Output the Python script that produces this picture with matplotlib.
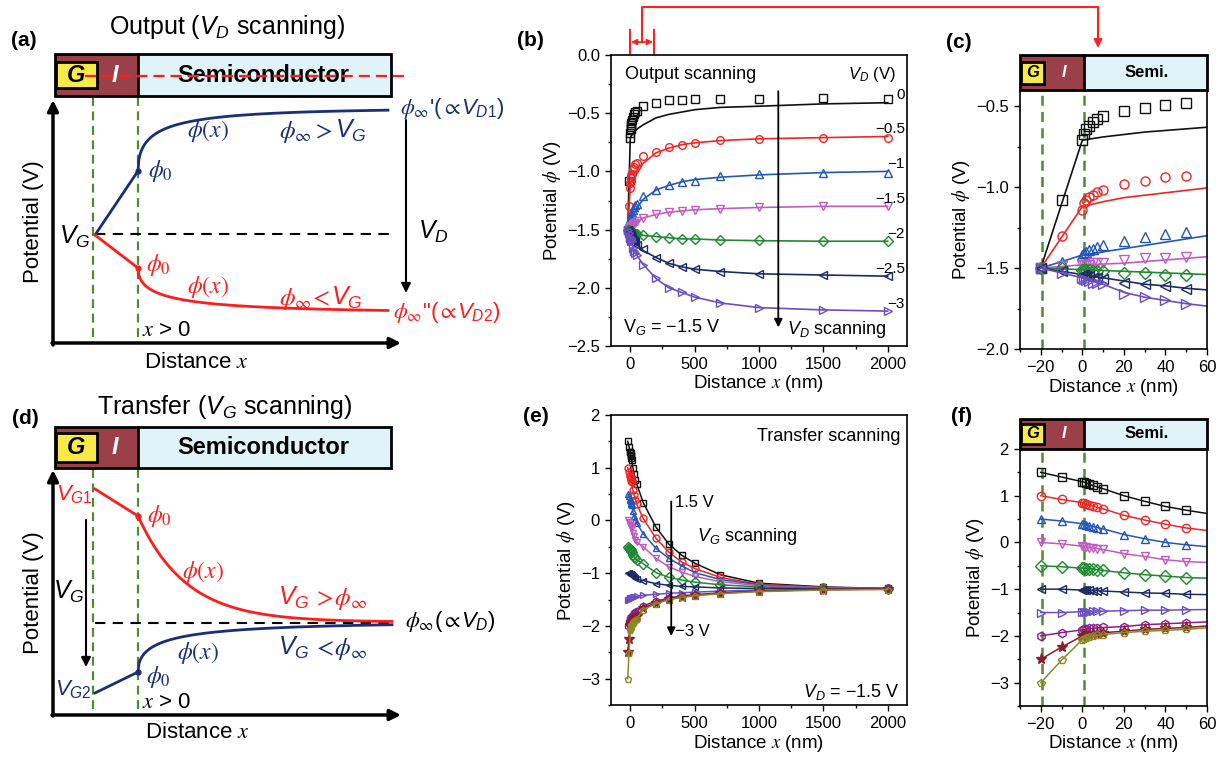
import numpy as np
import matplotlib
matplotlib.use("Agg")
import matplotlib.pyplot as plt
from matplotlib.patches import Rectangle
from matplotlib.ticker import MultipleLocator
from matplotlib.transforms import IdentityTransform

W, H = 1223, 758
plt.rcParams.update({
    'font.family': ['Liberation Sans', 'DejaVu Sans'],
    'mathtext.fontset': 'custom',
    'mathtext.rm': 'Liberation Sans',
    'mathtext.it': 'Liberation Sans:italic',
    'mathtext.bf': 'Liberation Sans:bold',
    'mathtext.sf': 'Liberation Sans',
    'axes.linewidth': 1.2,
})

# ---------------- data: output scanning (b, c) ----------------
vd_labels = ['0', '−0.5', '−1', '−1.5', '−2', '−2.5', '−3']
x_sim = [-20, -10, 0, 1, 2, 3, 5, 7, 10, 20, 30, 40, 50, 100, 200, 300, 400, 500, 700, 1000, 1500, 2000]
out_sim_0 = [-1.5, -1.08, -0.71, -0.67, -0.64, -0.62, -0.60, -0.58, -0.56, -0.53, -0.51, -0.49, -0.48, -0.44, -0.41, -0.39, -0.39, -0.38, -0.38, -0.375, -0.37, -0.375]
out_sim_05 = [-1.5, -1.3, -1.14, -1.10, -1.08, -1.06, -1.05, -1.03, -1.02, -0.98, -0.96, -0.94, -0.93, -0.87, -0.83, -0.79, -0.77, -0.76, -0.73, -0.72, -0.71, -0.71]
out_sim_1 = [-1.5, -1.46, -1.42, -1.41, -1.40, -1.39, -1.38, -1.37, -1.36, -1.33, -1.31, -1.29, -1.28, -1.21, -1.16, -1.12, -1.09, -1.08, -1.04, -1.02, -1.01, -1.01]
out_sim_15 = [-1.5, -1.49, -1.48, -1.48, -1.48, -1.48, -1.47, -1.47, -1.47, -1.45, -1.44, -1.44, -1.43, -1.40, -1.37, -1.35, -1.34, -1.33, -1.32, -1.31, -1.30, -1.30]
out_sim_2 = [-1.5, -1.5, -1.51, -1.51, -1.51, -1.51, -1.52, -1.52, -1.52, -1.53, -1.53, -1.54, -1.54, -1.55, -1.56, -1.57, -1.58, -1.58, -1.59, -1.59, -1.60, -1.60]
out_sim_25 = [-1.5, -1.52, -1.54, -1.545, -1.55, -1.55, -1.56, -1.56, -1.57, -1.59, -1.60, -1.61, -1.63, -1.67, -1.74, -1.79, -1.82, -1.84, -1.86, -1.88, -1.89, -1.90]
out_sim_3 = [-1.5, -1.53, -1.56, -1.57, -1.575, -1.58, -1.59, -1.595, -1.60, -1.66, -1.68, -1.70, -1.72, -1.80, -1.92, -2.00, -2.04, -2.08, -2.13, -2.17, -2.19, -2.20]

x_fit = [-20, 0, 10, 20, 30, 40, 50, 60, 100, 200, 300, 400, 500, 700, 1000, 1500, 2000]
out_fit_0 = [-1.5, -0.71, -0.69, -0.675, -0.66, -0.65, -0.64, -0.63, -0.60, -0.54, -0.51, -0.49, -0.47, -0.45, -0.44, -0.42, -0.41]
out_fit_05 = [-1.5, -1.12, -1.09, -1.065, -1.05, -1.035, -1.02, -1.005, -0.93, -0.84, -0.80, -0.77, -0.755, -0.735, -0.72, -0.71, -0.70]
out_fit_1 = [-1.5, -1.42, -1.40, -1.38, -1.36, -1.34, -1.32, -1.30, -1.24, -1.16, -1.12, -1.09, -1.07, -1.05, -1.03, -1.01, -1.00]
out_fit_15 = [-1.5, -1.48, -1.475, -1.47, -1.46, -1.45, -1.44, -1.43, -1.40, -1.37, -1.35, -1.34, -1.33, -1.32, -1.31, -1.30, -1.30]
out_fit_2 = [-1.5, -1.51, -1.515, -1.52, -1.525, -1.53, -1.535, -1.54, -1.55, -1.56, -1.57, -1.58, -1.58, -1.59, -1.595, -1.60, -1.60]
out_fit_25 = [-1.5, -1.54, -1.56, -1.58, -1.60, -1.61, -1.625, -1.635, -1.68, -1.74, -1.79, -1.82, -1.84, -1.86, -1.88, -1.89, -1.90]
out_fit_3 = [-1.5, -1.56, -1.60, -1.65, -1.68, -1.70, -1.72, -1.735, -1.80, -1.92, -2.00, -2.04, -2.08, -2.13, -2.17, -2.19, -2.20]

# ---------------- data: transfer scanning (e, f) ----------------
x_tr = [-20, -10, 0, 1, 2, 3, 5, 7, 10, 20, 30, 40, 50, 100, 200, 300, 400, 500, 700, 1000, 1500, 2000]
tr_p15 = [1.5, 1.4, 1.3, 1.29, 1.27, 1.25, 1.22, 1.19, 1.15, 1.0, 0.88, 0.77, 0.69, 0.34, -0.13, -0.45, -0.66, -0.81, -1.03, -1.19, -1.26, -1.29]
tr_p10 = [1.0, 0.92, 0.85, 0.84, 0.82, 0.80, 0.78, 0.75, 0.72, 0.58, 0.48, 0.39, 0.31, 0.04, -0.34, -0.60, -0.79, -0.91, -1.08, -1.21, -1.27, -1.29]
tr_p05 = [0.5, 0.46, 0.40, 0.39, 0.38, 0.36, 0.34, 0.32, 0.29, 0.17, 0.08, 0.0, -0.05, -0.25, -0.53, -0.72, -0.86, -0.99, -1.12, -1.22, -1.28, -1.29]
tr_0 = [0.0, -0.03, -0.08, -0.09, -0.10, -0.11, -0.12, -0.13, -0.15, -0.24, -0.30, -0.37, -0.41, -0.50, -0.72, -0.88, -0.98, -1.06, -1.16, -1.24, -1.28, -1.30]
tr_m05 = [-0.5, -0.52, -0.55, -0.55, -0.56, -0.56, -0.57, -0.58, -0.60, -0.65, -0.69, -0.72, -0.75, -0.82, -0.99, -1.08, -1.13, -1.17, -1.22, -1.26, -1.29, -1.30]
tr_m10 = [-1.0, -1.0, -1.02, -1.02, -1.02, -1.02, -1.03, -1.03, -1.04, -1.06, -1.08, -1.09, -1.11, -1.14, -1.20, -1.23, -1.25, -1.26, -1.28, -1.29, -1.30, -1.30]
tr_m15 = [-1.5, -1.5, -1.48, -1.48, -1.48, -1.48, -1.47, -1.47, -1.47, -1.46, -1.45, -1.45, -1.44, -1.42, -1.40, -1.38, -1.37, -1.36, -1.34, -1.32, -1.31, -1.30]
tr_m20 = [-2.0, -1.93, -1.87, -1.86, -1.85, -1.84, -1.84, -1.83, -1.82, -1.80, -1.76, -1.74, -1.72, -1.62, -1.53, -1.47, -1.43, -1.41, -1.37, -1.34, -1.31, -1.30]
tr_m25 = [-2.5, -2.24, -2.0, -1.99, -1.98, -1.97, -1.96, -1.95, -1.93, -1.90, -1.86, -1.84, -1.82, -1.66, -1.56, -1.49, -1.45, -1.42, -1.38, -1.34, -1.31, -1.30]
tr_m30 = [-3.0, -2.52, -2.08, -2.06, -2.04, -2.02, -2.0, -1.99, -1.97, -1.93, -1.90, -1.88, -1.86, -1.69, -1.58, -1.50, -1.46, -1.43, -1.39, -1.35, -1.32, -1.31]

out_sim = [out_sim_0, out_sim_05, out_sim_1, out_sim_15, out_sim_2, out_sim_25, out_sim_3]
out_fit = [out_fit_0, out_fit_05, out_fit_1, out_fit_15, out_fit_2, out_fit_25, out_fit_3]
out_colors = ['#111111', '#f02424', '#2457b5', '#c05cc0', '#1e8a2e', '#1c2a66', '#6b4fc0']
out_markers = ['s', 'o', '^', 'v', 'D', '<', '>']

tr_series = [tr_p15, tr_p10, tr_p05, tr_0, tr_m05, tr_m10, tr_m15, tr_m20, tr_m25, tr_m30]
tr_colors = ['#111111', '#f02424', '#2457b5', '#c05cc0', '#1e8a2e', '#1c2a66', '#6b4fc0', '#8a1e8a', '#8b1c2c', '#8b8a2a']
tr_markers = ['s', 'o', '^', 'v', 'D', '<', '>', 'h', '*', 'p']

SCH_BLUE = '#1a2f78'
SCH_RED = '#ff1c1c'
GREEN = '#4e8b33'
BROWN = '#9b4049'
LBLUE = '#dff3f8'
YELLOW = '#f7ea48'

fig = plt.figure(figsize=(W / 100, H / 100), dpi=100)
ov = fig.add_axes([0, 0, 1, 1])
ov.set_xlim(0, W)
ov.set_ylim(H, 0)
ov.axis('off')
renderer = fig.canvas.get_renderer()


def seq_text(x, yc, parts, color, size, gap=0.0):
    """Place text pieces one after another (pixel coords, y = centre)."""
    ybase = yc + 0.33 * size * 100 / 72
    X, Y = ov.transData.transform((x, ybase))
    for s, mf in parts:
        t = fig.text(X, Y, s, transform=IdentityTransform(), color=color,
                     fontsize=size, ha='left', va='baseline', math_fontfamily=mf)
        bb = t.get_window_extent(renderer)
        X = bb.x1 + gap


def draw_bar(ax, xl, xi, xr, yt, yb, gx0, gx1, gy0, gy1, fs, label, gxc, ixc, sxc, yc, lw=2):
    ax.add_patch(Rectangle((xl, yt), xi - xl, yb - yt, facecolor=BROWN, edgecolor='none', zorder=5, clip_on=False))
    ax.add_patch(Rectangle((xi, yt), xr - xi, yb - yt, facecolor=LBLUE, edgecolor='none', zorder=5, clip_on=False))
    ax.add_patch(Rectangle((gx0, gy0), gx1 - gx0, gy1 - gy0, facecolor=YELLOW, edgecolor='black', lw=lw, zorder=6, clip_on=False))
    ax.add_patch(Rectangle((xl, yt), xr - xl, yb - yt, facecolor='none', edgecolor='black', lw=lw, zorder=7, clip_on=False))
    ax.plot([xi, xi], [yt, yb], color='black', lw=lw, zorder=7, clip_on=False)
    ax.text(gxc, yc, 'G', fontsize=fs, fontweight='bold', fontstyle='italic', ha='center', va='center', zorder=8)
    ax.text(ixc, yc, 'I', fontsize=fs, fontweight='bold', fontstyle='italic', color='white', ha='center', va='center', zorder=8)
    ax.text(sxc, yc, label, fontsize=fs, fontweight='bold', ha='center', va='center', zorder=8)


def arrow(ax, tail, tip, color='black', lw=2.5, ms=18, style='-|>'):
    ax.annotate('', xy=tip, xytext=tail,
                arrowprops=dict(arrowstyle=style, color=color, lw=lw, mutation_scale=ms,
                                shrinkA=0, shrinkB=0))


# ---------------- panel (a) schematic ----------------
ov.text(227, 27, r'Output ($V_D$ scanning)', fontsize=18, ha='center', va='center')
ov.text(24, 41, '(a)', fontsize=15, fontweight='bold', ha='center', va='center')
draw_bar(ov, 55, 138, 391, 54, 96, 56, 97, 62, 88, 17, 'Semiconductor', 76, 115, 263, 76)
ov.plot([85, 407], [76, 76], color=SCH_RED, lw=1.6, ls=(0, (5, 2.7)), zorder=9)
arrow(ov, (53, 345), (53, 100), lw=2.5, ms=16)
arrow(ov, (52, 343), (401, 343), lw=2.5, ms=16)
for gx in (93, 138):
    ov.plot([gx, gx], [97, 342], color=GREEN, lw=1.6, ls=(0, (4, 2.5)))
ov.plot([95, 392], [234, 234], color='black', lw=1.5, ls=(0, (5, 3.5)))
xs = np.linspace(138, 388, 300)
ov.plot([95, 138], [235, 171], color=SCH_BLUE, lw=2)
ov.plot(xs, 108 + (171 - 108) * np.exp(-np.sqrt((xs - 138) / 22)), color=SCH_BLUE, lw=2)
ov.plot([138], [171], 'o', color=SCH_BLUE, ms=3.5)
ov.plot([95, 138], [235, 268], color=SCH_RED, lw=2)
ov.plot(xs, 313 + (268 - 313) * np.exp(-np.sqrt((xs - 138) / 30)), color=SCH_RED, lw=2)
ov.plot([138], [268], 'o', color=SCH_RED, ms=3.5)
ov.text(75, 237, r'$V_G$', fontsize=18, ha='center', va='center')
ov.text(148, 171, r'$\phi_0$', fontsize=17, color=SCH_BLUE, ha='left', va='center', math_fontfamily='stix')
ov.text(208, 131, r'$\phi(x)$', fontsize=17, color=SCH_BLUE, ha='center', va='center', math_fontfamily='stix')
seq_text(279, 130, [(r'$\phi_\infty > $', 'stix'), (r'$V_G$', 'custom')], SCH_BLUE, 18, gap=2)
seq_text(400, 107, [(r"$\phi_\infty$'($\propto$", 'stix'), (r'$V_{D1}$)', 'custom')], SCH_BLUE, 16)
ov.text(146, 265, r'$\phi_0$', fontsize=17, color=SCH_RED, ha='left', va='center', math_fontfamily='stix')
ov.text(208, 287, r'$\phi(x)$', fontsize=17, color=SCH_RED, ha='center', va='center', math_fontfamily='stix')
seq_text(279, 297, [(r'$\phi_\infty\!<\!$', 'stix'), (r'$V_G$', 'custom')], SCH_RED, 18, gap=1)
seq_text(393, 311, [(r'$\phi_\infty$"($\propto$', 'stix'), (r'$V_{D2}$)', 'custom')], SCH_RED, 16)
arrow(ov, (406, 120), (406, 293), lw=1.5, ms=14)
ov.text(418, 232, r'$V_D$', fontsize=18, ha='left', va='center')
ov.text(142, 330, r'$x$ > 0', fontsize=16, ha='left', va='center', math_fontfamily='stix')
ov.text(196, 362, r'Distance $x$', fontsize=16, ha='center', va='center', math_fontfamily='stix')
ov.text(33, 222, 'Potential (V)', fontsize=16, rotation=90, ha='center', va='center')

# ---------------- panel (d) schematic ----------------
ov.text(225, 407, r'Transfer ($V_G$ scanning)', fontsize=18, ha='center', va='center')
ov.text(25, 419, '(d)', fontsize=15, fontweight='bold', ha='center', va='center')
draw_bar(ov, 55, 138, 391, 427, 468, 56, 97, 433, 462, 17, 'Semiconductor', 76, 115, 263, 448)
arrow(ov, (53, 716), (53, 470), lw=2.5, ms=16)
arrow(ov, (52, 715), (401, 715), lw=2.5, ms=16)
for gx in (93, 138):
    ov.plot([gx, gx], [469, 714], color=GREEN, lw=1.6, ls=(0, (4, 2.5)))
ov.plot([95, 392], [623, 623], color='black', lw=1.5, ls=(0, (5, 3.5)))
xs2 = np.linspace(138, 392, 300)
ov.plot([95, 138], [489, 516], color=SCH_RED, lw=2)
ov.plot(xs2, 622 + (516 - 622) * np.exp(-(xs2 - 138) / 48), color=SCH_RED, lw=2)
ov.plot([138], [516], 'o', color=SCH_RED, ms=3.5)
ov.plot([95, 138], [693, 672], color=SCH_BLUE, lw=2)
ov.plot(xs2, 622 + (672 - 622) * np.exp(-np.sqrt((xs2 - 138) / 30)), color=SCH_BLUE, lw=2)
ov.plot([138], [672], 'o', color=SCH_BLUE, ms=3.5)
ov.text(56, 495, r'$V_{G1}$', fontsize=16, color=SCH_RED, ha='left', va='center')
ov.text(147, 516, r'$\phi_0$', fontsize=17, color=SCH_RED, ha='left', va='center', math_fontfamily='stix')
ov.text(203, 572, r'$\phi(x)$', fontsize=17, color=SCH_RED, ha='center', va='center', math_fontfamily='stix')
seq_text(278, 597, [(r'$V_G$', 'custom'), (r'$>\!\phi_\infty$', 'stix')], SCH_RED, 18, gap=3)
seq_text(405, 620, [(r'$\phi_\infty$($\propto$', 'stix'), (r'$V_D$)', 'custom')], 'black', 16)
seq_text(278, 647, [(r'$V_G$', 'custom'), (r'$<\!\phi_\infty$', 'stix')], SCH_BLUE, 18, gap=3)
ov.text(198, 653, r'$\phi(x)$', fontsize=17, color=SCH_BLUE, ha='center', va='center', math_fontfamily='stix')
ov.text(146, 677, r'$\phi_0$', fontsize=17, color=SCH_BLUE, ha='left', va='center', math_fontfamily='stix')
ov.text(55, 690, r'$V_{G2}$', fontsize=16, color=SCH_BLUE, ha='left', va='center')
ov.text(142, 703, r'$x$ > 0', fontsize=16, ha='left', va='center', math_fontfamily='stix')
ov.text(197, 733, r'Distance $x$', fontsize=16, ha='center', va='center', math_fontfamily='stix')
ov.text(33, 593, 'Potential (V)', fontsize=16, rotation=90, ha='center', va='center')
arrow(ov, (86, 520), (86, 667), lw=1.5, ms=14)
ov.text(69, 592, r'$V_G$', fontsize=18, ha='center', va='center')

# red bracket linking (b) to (c)
ov.plot([630, 630], [30, 55], color='#ff2020', lw=1.5)
ov.plot([654, 654], [30, 55], color='#ff2020', lw=1.5)
arrow(ov, (631, 42), (653, 42), color='#ff2020', lw=1.3, ms=8, style='<|-|>')
ov.plot([642, 642, 1098], [42, 7, 7], color='#ff2020', lw=1.5)
arrow(ov, (1098, 7), (1098, 48), color='#ff2020', lw=1.5, ms=12)

# panel letters
for lab, (px, py) in {'(b)': (530, 41), '(c)': (959, 43), '(e)': (536, 417), '(f)': (962, 417)}.items():
    ov.text(px, py, lab, fontsize=15, fontweight='bold', ha='center', va='center')


def style_axes(ax, xmaj, xmin, ymaj, ymin):
    ax.xaxis.set_major_locator(MultipleLocator(xmaj))
    ax.xaxis.set_minor_locator(MultipleLocator(xmin))
    ax.yaxis.set_major_locator(MultipleLocator(ymaj))
    ax.yaxis.set_minor_locator(MultipleLocator(ymin))
    ax.tick_params(which='both', direction='out', top=False, right=False, labelsize=12, width=1)
    ax.tick_params(which='major', length=4.5)
    ax.tick_params(which='minor', length=2.5)
    ax.set_xlabel(r'Distance $x$ (nm)', fontsize=13.5, math_fontfamily='stix', labelpad=1)
    ax.set_ylabel(r'Potential $\phi$ (V)', fontsize=13.5, math_fontfamily='stix', labelpad=3)


# ---------------- panel (b) ----------------
axb = fig.add_axes([611 / W, 1 - 346 / H, 296 / W, 291 / H])
for sim, fit, c, m, lab in zip(out_sim, out_fit, out_colors, out_markers, vd_labels):
    axb.plot(x_fit, fit, '-', color=c, lw=1.2)
    axb.plot(x_sim, sim, ls='none', marker=m, mfc='none', mec=c, ms=5.5, mew=1.0)
    axb.text(2135, fit[-1] + 0.065, lab, fontsize=11, ha='right', va='center')
axb.set_xlim(-150, 2150)
axb.set_ylim(-2.5, 0)
style_axes(axb, 500, 250, 0.5, 0.25)
axb.text(-40, -0.17, 'Output scanning', fontsize=13, ha='left', va='center')
axb.text(2060, -0.17, r'$V_D$ (V)', fontsize=12, ha='right', va='center')
axb.text(-55, -2.34, r'V$_G$ = −1.5 V', fontsize=13, ha='left', va='center')
axb.text(1215, -2.36, r'$V_D$ scanning', fontsize=13, ha='left', va='center')
axb.annotate('', xy=(1150, -2.34), xytext=(1150, -0.31),
             arrowprops=dict(arrowstyle='-|>', color='black', lw=1.3, mutation_scale=12, shrinkA=0, shrinkB=0))

# ---------------- panel (c) ----------------
axc = fig.add_axes([1020 / W, 1 - 349 / H, 187 / W, 259 / H])
for sim, fit, c, m in zip(out_sim, out_fit, out_colors, out_markers):
    axc.plot(x_fit, fit, '-', color=c, lw=1.2)
    axc.plot(x_sim, sim, ls='none', marker=m, mfc='none', mec=c, ms=6.5, mew=1.0)
for gx in (-19.3, 1.0):
    axc.axvline(gx, color=GREEN, lw=1.8, ls=(0, (4, 2.5)), zorder=0.5)
axc.set_xlim(-30, 60)
axc.set_ylim(-2.0, -0.4)
style_axes(axc, 20, 10, 0.5, 0.25)
axc_bar = fig.add_axes([1020 / W, 1 - 90 / H, 187 / W, 35 / H])
axc_bar.set_xlim(-30, 60)
axc_bar.set_ylim(0, 1)
axc_bar.axis('off')
draw_bar(axc_bar, -30, 1.0, 60, 0, 1, -29.3, -18.6, 0.17, 0.8, 12, 'Semi.', -24, -9, 31, 0.5)

# ---------------- panel (e) ----------------
axe = fig.add_axes([611 / W, 1 - 705 / H, 296 / W, 290 / H])
for vals, c, m in zip(tr_series, tr_colors, tr_markers):
    axe.plot(x_tr, vals, '-', color=c, lw=1.1, marker=m, mfc=(c if m == '*' else 'none'),
             mec=c, ms=(7 if m == '*' else 5), mew=1.0)
axe.set_xlim(-150, 2150)
axe.set_ylim(-3.5, 2)
style_axes(axe, 500, 250, 1, 0.5)
axe.text(2096, 1.59, 'Transfer scanning', fontsize=13, ha='right', va='center')
axe.text(350, 0.34, '1.5 V', fontsize=12, ha='left', va='center')
axe.text(520, -0.30, r'$V_G$ scanning', fontsize=13, ha='left', va='center')
axe.text(350, -2.1, '−3 V', fontsize=12, ha='left', va='center')
axe.text(2096, -3.26, r'$V_D$ = −1.5 V', fontsize=13, ha='right', va='center')
axe.annotate('', xy=(318, -2.19), xytext=(318, 0.36),
             arrowprops=dict(arrowstyle='-|>', color='black', lw=1.3, mutation_scale=12, shrinkA=0, shrinkB=0))

# ---------------- panel (f) ----------------
axf = fig.add_axes([1020 / W, 1 - 706 / H, 187 / W, 257 / H])
for vals, c, m in zip(tr_series, tr_colors, tr_markers):
    axf.plot(x_tr, vals, '-', color=c, lw=1.1, marker=m, mfc=(c if m == '*' else 'none'),
             mec=c, ms=(8 if m == '*' else 6), mew=1.0)
for gx in (-19.3, 1.0):
    axf.axvline(gx, color=GREEN, lw=1.8, ls=(0, (4, 2.5)), zorder=0.5)
axf.set_xlim(-30, 60)
axf.set_ylim(-3.5, 2)
style_axes(axf, 20, 10, 1, 0.5)
axf_bar = fig.add_axes([1020 / W, 1 - 449 / H, 187 / W, 30 / H])
axf_bar.set_xlim(-30, 60)
axf_bar.set_ylim(0, 1)
axf_bar.axis('off')
draw_bar(axf_bar, -30, 1.0, 60, 0, 1, -29.3, -18.6, 0.17, 0.85, 12, 'Semi.', -24, -9, 31, 0.5)

fig.savefig('out.png', dpi=100)
